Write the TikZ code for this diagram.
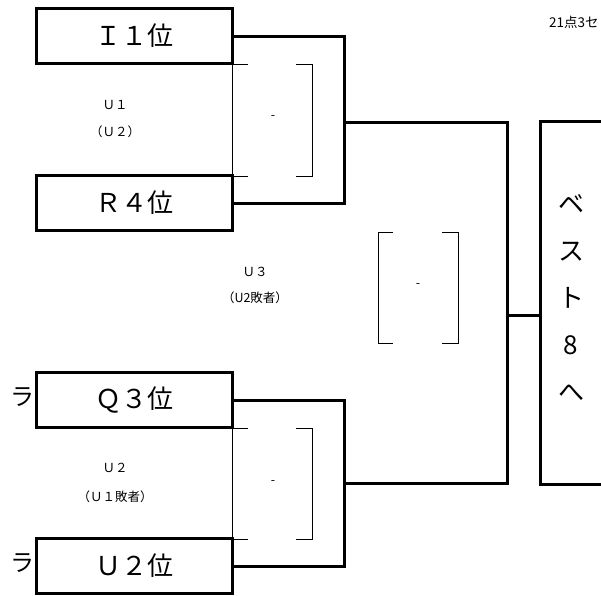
\documentclass[tikz,border=0pt]{standalone}
\usepackage{fontspec}
\setmainfont{Noto Sans CJK JP}
\usetikzlibrary{positioning}

\begin{document}
\begin{tikzpicture}[x=1pt, y=-1pt, line join=miter,
    seed/.style={draw, line width=3pt, fill=white, minimum width=196pt, minimum height=55pt, inner sep=0pt, font=\fontsize{26}{26}\selectfont},
    kana/.style={font=\fontsize{24}{24}\selectfont, inner sep=0pt},
    wire/.style={line width=3pt},
    score/.style={line width=0.9pt},
    note/.style={font=\fontsize{12.5}{12.5}\selectfont, inner sep=1pt}]
      \useasboundingbox (0,0) rectangle (601,595);

      % clipped text behind the lower boxes
      \node[kana] (ra1) at (22,397) {ラ};
      \node[kana] (ra2) at (22,563) {ラ};

      \node[seed] (i1) at (134,36) {Ｉ１位};
      \node[seed] (r4) at (134,203) {Ｒ４位};
      \node[seed] (q3) at (134,400) {Ｑ３位};
      \node[seed] (u2) at (134,566) {Ｕ２位};

      \node[draw, line width=3pt, minimum width=100pt, minimum height=363pt, anchor=north west, inner sep=0pt] (best) at (539,120) {};
      \node[font=\fontsize{26}{47}\selectfont, align=center, inner sep=0pt] (best8) at (571,298) {ベ\\ス\\ト\\8\\へ};

      \node[font=\fontsize{13.5}{13.5}\selectfont, anchor=west, inner sep=0pt] (rule) at (549,22) {21点3セ};

      \coordinate (m1) at (344,122);
      \coordinate (m2) at (344,483);
      \coordinate (f1) at (507,122);
      \coordinate (f2) at (507,483);
      \coordinate (fj) at (507,315);

      \draw[wire] (i1.east) -| (m1) |- (r4.east);
      \draw[wire] (q3.east) -| (m2) |- (u2.east);
      \draw[wire] (m1) -- (f1) -- (f2) -- (m2);
      \draw[wire] (fj) -- (fj -| best.west);

      % score brackets
      \draw[score] (248,64) -| (232,176) -- (248,176);
      \draw[score] (296,64) -| (312,176) -- (296,176);
      \draw[score] (393,232) -| (378,343) -- (393,343);
      \draw[score] (442,232) -| (458,343) -- (442,343);
      \draw[score] (248,428) -| (232,539) -- (248,539);
      \draw[score] (296,428) -| (312,539) -- (296,539);
      \node[note] (s1) at (273,118) {-};
      \node[note] (s3) at (418,286) {-};
      \node[note] (s2) at (273,483) {-};

      \node[note] (g1) at (115,105) {Ｕ１};
      \node[note] (g1b) at (115,132) {（Ｕ２）};
      \node[note] (g3) at (255,272) {Ｕ３};
      \node[note] (g3b) at (255,298) {（U2敗者）};
      \node[note] (g2) at (115,468) {Ｕ２};
      \node[note] (g2b) at (115,497) {（Ｕ１敗者）};
    \end{tikzpicture}
\end{document}
